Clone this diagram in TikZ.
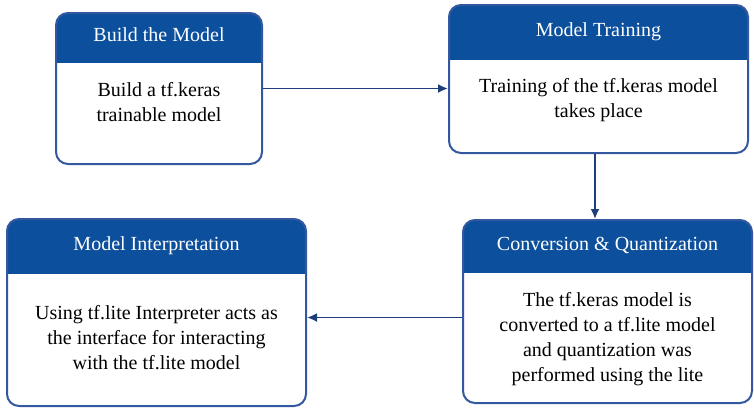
\documentclass[tikz,border=0pt]{standalone}
\usepackage{fontspec}
\setmainfont{Liberation Serif}
\usetikzlibrary{arrows.meta,calc,positioning}
\definecolor{hdblue}{HTML}{0C4F9D}
\definecolor{edgeblue}{HTML}{3458A0}
\definecolor{arrowblue}{HTML}{1F3E7C}

\begin{document}
\begin{tikzpicture}[x=1pt,y=-1pt,>={Latex[length=10pt,width=9pt]},
    stage/.style={draw=edgeblue,fill=white,line width=2pt,rounded corners=12pt,
      path picture={\fill[hdblue,sharp corners] (path picture bounding box.north west) rectangle ([yshift=-#1]path picture bounding box.north east);}},
    head/.style={text=white,font=\fontsize{20}{24}\selectfont,text height=13pt,text depth=4pt,inner sep=0pt},
    body/.style={align=center,font=\fontsize{20}{25}\selectfont,inner sep=0pt,anchor=north},
    flow/.style={->,draw=arrowblue,line width=1.8pt}]
  \useasboundingbox (0,0) rectangle (754,408);
  % four stages
  \node[stage=50pt,minimum width=206pt,minimum height=151pt] (build) at (159,88.5) {};
  \node[head] (buildhead) at ([yshift=-25pt]build.north) {Build the Model};
  \node[body] (buildtext) at ([yshift=-70.5pt]build.north) {Build a tf.keras\\trainable model};

  \node[stage=55pt,minimum width=299pt,minimum height=148pt] (train) at (598.5,79) {};
  \node[head] (trainhead) at ([yshift=-27.5pt]train.north) {Model Training};
  \node[body] (traintext) at ([yshift=-74.5pt]train.north) {Training of the tf.keras model\\takes place};

  \node[stage=53pt,minimum width=289pt,minimum height=183pt] (conv) at (607.5,311.5) {};
  \node[head] (convhead) at ([yshift=-26.5pt]conv.north) {Conversion \& Quantization};
  \node[body] (convtext) at ([yshift=-73.5pt]conv.north) {The tf.keras model is\\converted to a tf.lite model\\and quantization was\\performed using the lite};

  \node[stage=55pt,minimum width=299pt,minimum height=187pt] (interp) at (156.5,312.5) {};
  \node[head] (interphead) at ([yshift=-27.5pt]interp.north) {Model Interpretation};
  \node[body] (interptext) at ([yshift=-87.5pt]interp.north) {Using tf.lite Interpreter acts as\\the interface for interacting\\with the tf.lite model};

  % connectors
  \draw[flow] (build.east) -- (build.east -| train.west);
  \draw[flow] ([xshift=-3.5pt]train.south) -- ([xshift=-3.5pt]train.south |- conv.north);
  \draw[flow] ([yshift=-6pt]conv.west) -- ([yshift=-6pt]conv.west -| interp.east);
\end{tikzpicture}
\end{document}
